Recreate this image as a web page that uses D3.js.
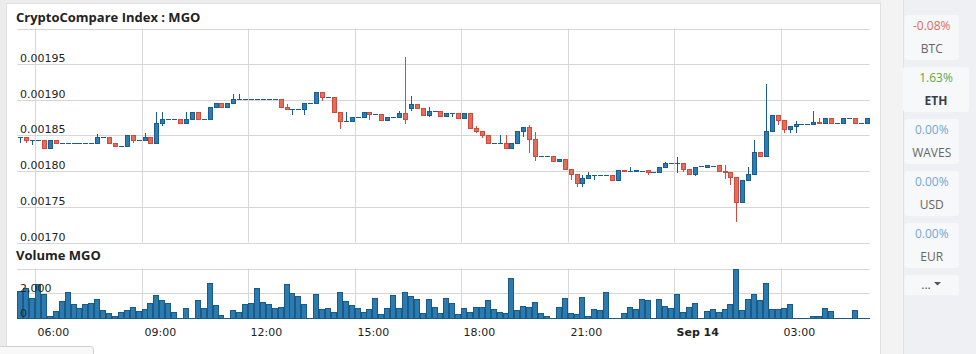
<!DOCTYPE html>
<html><head><meta charset="utf-8">
<script src="https://cdn.jsdelivr.net/npm/d3@7"></script>
<style>
html,body{margin:0;padding:0;background:#ededed;width:976px;height:354px;overflow:hidden;}
svg{display:block;}
</style></head><body>
<svg id="c" width="976" height="354"></svg>
<script>
// ---------- DATA ----------
const chartTitle = "CryptoCompare Index : MGO";
const volumeTitle = "Volume MGO";
const startTime = new Date(2017, 8, 13, 5, 30); // first 10-minute candle
const candleMinutes = 10;

const openP = [
0.0018475,0.0018475,0.0018437,0.0018437,0.0018437,0.0018321,0.0018437,0.0018399,0.0018399,0.0018399,
0.0018399,0.0018399,0.0018399,0.0018399,0.0018475,0.0018475,0.0018391,0.0018353,0.0018353,0.0018503,
0.0018437,0.0018437,0.0018475,0.0018391,0.0018671,0.0018736,0.0018736,0.0018736,0.0018671,0.0018736,
0.0018825,0.0018736,0.0018736,0.0018895,0.0018951,0.0018895,0.0018951,0.0019007,0.0019007,0.0019007,
0.0019007,0.0019007,0.0019007,0.0019007,0.0019007,0.0018895,0.0018867,0.0018867,0.0018867,0.0018951,
0.0018951,0.0019106,0.0019036,0.0019036,0.0018834,0.0018699,0.0018699,0.0018755,0.0018755,0.0018825,
0.0018797,0.0018797,0.0018713,0.0018755,0.0018755,0.0018811,0.0018881,0.0018937,0.0018881,0.0018783,
0.0018839,0.0018839,0.0018769,0.0018811,0.0018811,0.0018741,0.0018811,0.0018601,0.0018559,0.0018503,
0.0018399,0.0018399,0.0018399,0.0018321,0.0018399,0.0018559,0.0018615,0.0018455,0.0018217,0.0018217,
0.0018217,0.0018143,0.0018175,0.0018026,0.0017956,0.0017838,0.0017900,0.0017942,0.0017942,0.0017942,
0.0017942,0.0017876,0.0018012,0.0018007,0.0017998,0.0018007,0.0018012,0.0017984,0.0017984,0.0018065,
0.0018108,0.0018108,0.0018108,0.0018026,0.0017960,0.0018068,0.0018063,0.0018072,0.0018082,0.0018007,
0.0017988,0.0017914,0.0017564,0.0017876,0.0017956,0.0018264,0.0018208,0.0018559,0.0018783,0.0018713,
0.0018587,0.0018629,0.0018657,0.0018657,0.0018657,0.0018694,0.0018675,0.0018741,0.0018675,0.0018675,
0.0018741,0.0018741,0.0018675,0.0018675];

const highP = [
0.0018475,0.0018475,0.0018437,0.0018437,0.0018437,0.0018437,0.0018437,0.0018399,0.0018399,0.0018399,
0.0018399,0.0018399,0.0018399,0.0018521,0.0018475,0.0018475,0.0018391,0.0018353,0.0018503,0.0018503,
0.0018437,0.0018539,0.0018475,0.0018829,0.0018829,0.0018736,0.0018736,0.0018736,0.0018829,0.0018825,
0.0018825,0.0018736,0.0018895,0.0018951,0.0018951,0.0018951,0.0019082,0.0019082,0.0019007,0.0019007,
0.0019007,0.0019007,0.0019007,0.0019007,0.0019007,0.0018937,0.0018867,0.0018867,0.0018951,0.0018951,
0.0019106,0.0019106,0.0019036,0.0019036,0.0018834,0.0018834,0.0018755,0.0018755,0.0018825,0.0018825,
0.0018797,0.0018797,0.0018755,0.0018755,0.0018844,0.0019600,0.0019054,0.0018937,0.0018881,0.0018895,
0.0018839,0.0018839,0.0018811,0.0018811,0.0018811,0.0018811,0.0018811,0.0018633,0.0018559,0.0018503,
0.0018399,0.0018503,0.0018503,0.0018399,0.0018559,0.0018615,0.0018647,0.0018553,0.0018217,0.0018217,
0.0018217,0.0018175,0.0018175,0.0018026,0.0017956,0.0017946,0.0017993,0.0017942,0.0017942,0.0017942,
0.0017942,0.0018012,0.0018012,0.0018054,0.0018012,0.0018007,0.0018012,0.0017984,0.0018065,0.0018133,
0.0018108,0.0018194,0.0018108,0.0018026,0.0018065,0.0018068,0.0018082,0.0018072,0.0018082,0.0018082,
0.0017988,0.0017914,0.0017876,0.0018054,0.0018437,0.0018264,0.0019222,0.0018783,0.0018783,0.0018713,
0.0018629,0.0018703,0.0018657,0.0018657,0.0018844,0.0018741,0.0018741,0.0018741,0.0018675,0.0018741,
0.0018741,0.0018741,0.0018675,0.0018741];

const lowP = [
0.0018391,0.0018399,0.0018363,0.0018437,0.0018321,0.0018321,0.0018399,0.0018399,0.0018399,0.0018399,
0.0018399,0.0018399,0.0018399,0.0018399,0.0018475,0.0018399,0.0018357,0.0018353,0.0018353,0.0018399,
0.0018437,0.0018437,0.0018391,0.0018391,0.0018633,0.0018736,0.0018736,0.0018671,0.0018671,0.0018736,
0.0018736,0.0018736,0.0018736,0.0018895,0.0018895,0.0018895,0.0018951,0.0019007,0.0019007,0.0019007,
0.0019007,0.0019007,0.0019007,0.0019007,0.0018895,0.0018867,0.0018787,0.0018867,0.0018787,0.0018951,
0.0018951,0.0018979,0.0019036,0.0018834,0.0018587,0.0018699,0.0018699,0.0018755,0.0018755,0.0018717,
0.0018797,0.0018713,0.0018713,0.0018755,0.0018755,0.0018661,0.0018844,0.0018881,0.0018783,0.0018755,
0.0018839,0.0018769,0.0018769,0.0018755,0.0018741,0.0018741,0.0018601,0.0018531,0.0018461,0.0018391,
0.0018399,0.0018399,0.0018321,0.0018321,0.0018399,0.0018483,0.0018259,0.0018138,0.0018217,0.0018217,
0.0018143,0.0018143,0.0018026,0.0017876,0.0017774,0.0017774,0.0017900,0.0017876,0.0017942,0.0017942,
0.0017876,0.0017876,0.0017998,0.0018007,0.0017998,0.0018007,0.0017946,0.0017984,0.0017984,0.0018065,
0.0018108,0.0017979,0.0017984,0.0017960,0.0017936,0.0018068,0.0018063,0.0018072,0.0017998,0.0017894,
0.0017806,0.0017287,0.0017564,0.0017876,0.0017956,0.0018208,0.0018208,0.0018559,0.0018647,0.0018531,
0.0018531,0.0018531,0.0018657,0.0018657,0.0018657,0.0018675,0.0018675,0.0018675,0.0018675,0.0018675,
0.0018741,0.0018675,0.0018675,0.0018675];

const closeP = [
0.0018475,0.0018437,0.0018437,0.0018437,0.0018321,0.0018437,0.0018399,0.0018399,0.0018399,0.0018399,
0.0018399,0.0018399,0.0018399,0.0018475,0.0018475,0.0018399,0.0018357,0.0018353,0.0018503,0.0018437,
0.0018437,0.0018475,0.0018391,0.0018671,0.0018736,0.0018736,0.0018736,0.0018671,0.0018736,0.0018825,
0.0018736,0.0018736,0.0018895,0.0018951,0.0018895,0.0018951,0.0019007,0.0019007,0.0019007,0.0019007,
0.0019007,0.0019007,0.0019007,0.0019007,0.0018895,0.0018867,0.0018867,0.0018867,0.0018951,0.0018951,
0.0019106,0.0019036,0.0019036,0.0018834,0.0018699,0.0018699,0.0018755,0.0018755,0.0018825,0.0018797,
0.0018797,0.0018713,0.0018755,0.0018755,0.0018811,0.0018727,0.0018937,0.0018881,0.0018783,0.0018839,
0.0018839,0.0018769,0.0018811,0.0018811,0.0018741,0.0018811,0.0018601,0.0018559,0.0018503,0.0018391,
0.0018399,0.0018399,0.0018321,0.0018399,0.0018559,0.0018615,0.0018455,0.0018213,0.0018217,0.0018217,
0.0018143,0.0018175,0.0018026,0.0017956,0.0017838,0.0017900,0.0017942,0.0017942,0.0017942,0.0017942,
0.0017876,0.0018012,0.0017998,0.0018007,0.0018012,0.0018007,0.0017984,0.0017984,0.0018065,0.0018108,
0.0018108,0.0018108,0.0018026,0.0017960,0.0018065,0.0018068,0.0018082,0.0018072,0.0017998,0.0017988,
0.0017914,0.0017564,0.0017876,0.0017956,0.0018264,0.0018208,0.0018559,0.0018783,0.0018713,0.0018587,
0.0018629,0.0018657,0.0018657,0.0018657,0.0018694,0.0018675,0.0018741,0.0018675,0.0018675,0.0018741,
0.0018741,0.0018675,0.0018675,0.0018741];

const volumeV = [
2170,2440,1560,2740,1920,110,520,1340,2060,1100,
740,1100,1150,1480,600,330,110,440,580,820,
490,660,1150,1840,1430,1150,410,0,740,0,
1430,740,2800,990,190,0,580,410,1100,1150,
2390,1240,1100,740,820,2740,1980,1760,1100,0,
1920,660,740,410,2060,1320,990,740,410,660,
1560,280,740,1810,740,2060,1730,1480,330,1480,
820,330,1560,1150,280,740,410,820,820,1430,
660,410,330,3190,600,940,820,1270,330,110,
0,820,1560,390,280,1690,160,660,580,2060,
0,0,330,820,660,1480,1400,0,1480,900,
740,1920,410,820,1150,0,490,660,410,660,
1070,3950,580,1480,1920,1400,2800,660,660,740,
1100,0,0,0,110,160,740,490,0,0,
0,580,0,0];

const priceTicks = [0.00170,0.00175,0.00180,0.00185,0.00190,0.00195,0.00200];
const priceTickLabels = ["0.00170","0.00175","0.00180","0.00185","0.00190","0.00195",""];
const volumeTicks = [0,2000,4000];
const volumeTickLabels = ["0","2,000",""];
const timeTickLabels = ["06:00","09:00","12:00","15:00","18:00","21:00","Sep 14","03:00"];

const pairNames = ["BTC","ETH","WAVES","USD","EUR"];
const pairChanges = ["-0.08%","1.63%","0.00%","0.00%","0.00%"];
const selectedPair = "ETH";

// ---------- DRAW ----------
const svg = d3.select("#c");
const FONT_T = "'Open Sans', sans-serif";
const FONT_A = "'DejaVu Sans', Verdana, sans-serif";

// page pieces
svg.append("rect").attr("x",0).attr("y",0).attr("width",976).attr("height",354).attr("fill","#ececec");
svg.append("rect").attr("x",881).attr("y",0).attr("width",22).attr("height",354).attr("fill","#f3f3f3");
svg.append("rect").attr("x",6.5).attr("y",3.5).attr("width",874).attr("height",400)
  .attr("fill","#ffffff").attr("stroke","#e0e0e0");
svg.append("rect").attr("x",903).attr("y",0).attr("width",73).attr("height",354).attr("fill","#eff0f4");
svg.append("line").attr("x1",903.5).attr("x2",903.5).attr("y1",0).attr("y2",354).attr("stroke","#e2e3e8");
svg.append("rect").attr("x",-2.5).attr("y",346.5).attr("width",96).attr("height",14).attr("rx",3)
  .attr("fill","#f8f8f8").attr("stroke","#cfcfcf");

const x0 = 17.3, x1 = 869.5;
const endTime = d3.timeMinute.offset(startTime, candleMinutes * openP.length);
const x = d3.scaleTime().domain([startTime, endTime]).range([x0, x1]);
const y = d3.scaleLinear().domain([0.00170, 0.00200]).range([242.5, 28.5]);
const yv = d3.scaleLinear().domain([0, 4000]).range([317.5, 268.5]);

const data = openP.map((o,i)=>({
  t: d3.timeMinute.offset(startTime, candleMinutes*i + candleMinutes/2),
  o, h: highP[i], l: lowP[i], c: closeP[i], v: volumeV[i]
}));

const grid = svg.append("g");
const timeTicks = x.ticks(d3.timeHour.every(3));
timeTicks.forEach(t=>{
  const gx = Math.round(x(t)) + 0.5;
  grid.append("line").attr("x1",gx).attr("x2",gx).attr("y1",28.5).attr("y2",242.5).attr("stroke","#d8d8d8");
  grid.append("line").attr("x1",gx).attr("x2",gx).attr("y1",268.5).attr("y2",317.5).attr("stroke","#d8d8d8");
});
priceTicks.forEach((p,i)=>{
  const gy = Math.round(y(p)) + 0.5;
  grid.append("line").attr("x1",x0).attr("x2",x1).attr("y1",gy).attr("y2",gy).attr("stroke","#d6d6d6");
  if (priceTickLabels[i]) grid.append("text").attr("x",20).attr("y",gy-2.5)
     .attr("font-family",FONT_A).attr("font-size",11).attr("fill","#222").text(priceTickLabels[i]);
});
volumeTicks.forEach((v,i)=>{
  const gy = Math.round(yv(v)) + 0.5;
  grid.append("line").attr("x1",x0).attr("x2",x1).attr("y1",gy).attr("y2",gy).attr("stroke","#d6d6d6");
});

// titles
svg.append("text").attr("x",16).attr("y",22).attr("font-family",FONT_T).attr("font-weight",700)
  .attr("font-size",13).attr("fill","#222").text(chartTitle);
svg.append("text").attr("x",16).attr("y",260).attr("font-family",FONT_T).attr("font-weight",700)
  .attr("font-size",13).attr("fill","#222").text(volumeTitle);

// candles
const upFill="#2b7db8", upStroke="#1a5e8f", dnFill="#e26e5c", dnStroke="#d24a3c";
const cg = svg.append("g");
data.forEach(d=>{
  const cx = Math.round(x(d.t));
  const up = d.c >= d.o;
  const st = up ? upStroke : dnStroke;
  const yh = y(d.h), yl = y(d.l);
  if (yl - yh > 0.6)
    cg.append("line").attr("x1",cx+0.5).attr("x2",cx+0.5).attr("y1",Math.round(yh)).attr("y2",Math.round(yl)).attr("stroke",st);
  const yt = Math.round(y(Math.max(d.o,d.c))) + 0.5;
  const yb = Math.round(y(Math.min(d.o,d.c))) + 0.5;
  if (yb - yt < 1) {
    cg.append("line").attr("x1",cx-2).attr("x2",cx+3).attr("y1",yt).attr("y2",yt).attr("stroke",st);
  } else {
    cg.append("rect").attr("x",cx-1.5).attr("y",yt).attr("width",4).attr("height",yb-yt)
      .attr("fill", up?upFill:dnFill).attr("stroke",st);
  }
});

// volume
const vg = svg.append("g");
data.forEach(d=>{
  const cx = Math.round(x(d.t));
  const yt = Math.round(yv(d.v)) + 0.5;
  const yb = Math.round(yv(0)) + 0.5;
  if (yb - yt < 1) {
    vg.append("line").attr("x1",cx-3).attr("x2",cx+3).attr("y1",yb).attr("y2",yb).attr("stroke","#1a5a86");
  } else {
    vg.append("rect").attr("x",cx-2.5).attr("y",yt).attr("width",5).attr("height",yb-yt)
      .attr("fill","#2b7bb1").attr("stroke","#1a5a86");
  }
});
volumeTicks.forEach((v,i)=>{
  const gy = Math.round(yv(v)) + 0.5;
  if (volumeTickLabels[i]) svg.append("text").attr("x",20).attr("y",gy-2)
     .attr("font-family",FONT_A).attr("font-size",11).attr("fill","#222").text(volumeTickLabels[i]);
});

// time labels
timeTicks.forEach((t,i)=>{
  const gx = Math.round(x(t)) + 0.5;
  svg.append("text").attr("x",gx+2).attr("y",336)
    .attr("font-family",FONT_A).attr("font-size",11).attr("fill","#222")
    .attr("font-weight", timeTickLabels[i]==="Sep 14" ? 700 : 400)
    .text(timeTickLabels[i]);
});

// right-hand pair list
const boxTop = [15,67,119,171,223];
pairNames.forEach((n,i)=>{
  const sel = n===selectedPair;
  const bx = sel ? 903 : 904.5, bw = sel ? 66 : 54.5;
  svg.append("rect").attr("x",bx).attr("y",boxTop[i]).attr("width",bw).attr("height",45).attr("rx",3)
    .attr("fill", "#f7f8fa");
  const cx = bx + bw/2;
  const ch = pairChanges[i];
  const col = ch.startsWith("-") ? "#dd6b60" : (parseFloat(ch)>0 ? "#5fa83f" : "#72a8d6");
  svg.append("text").attr("x",cx).attr("y",boxTop[i]+15).attr("text-anchor","middle")
    .attr("font-family",FONT_T).attr("font-size",12).attr("fill",col).text(ch);
  svg.append("text").attr("x",cx).attr("y",boxTop[i]+38).attr("text-anchor","middle")
    .attr("font-family",FONT_T).attr("font-size",12).attr("font-weight", sel?700:400)
    .attr("fill", sel?"#3a3f48":"#666").text(n);
});
svg.append("rect").attr("x",904.5).attr("y",275).attr("width",54.5).attr("height",20).attr("rx",3).attr("fill","#f7f8fa");
svg.append("text").attr("x",926).attr("y",289).attr("text-anchor","middle")
  .attr("font-family",FONT_T).attr("font-size",12).attr("fill","#555").text("...");
svg.append("path").attr("d","M934,282 L941,282 L937.5,285.5 Z").attr("fill","#555");
</script>
</body></html>
